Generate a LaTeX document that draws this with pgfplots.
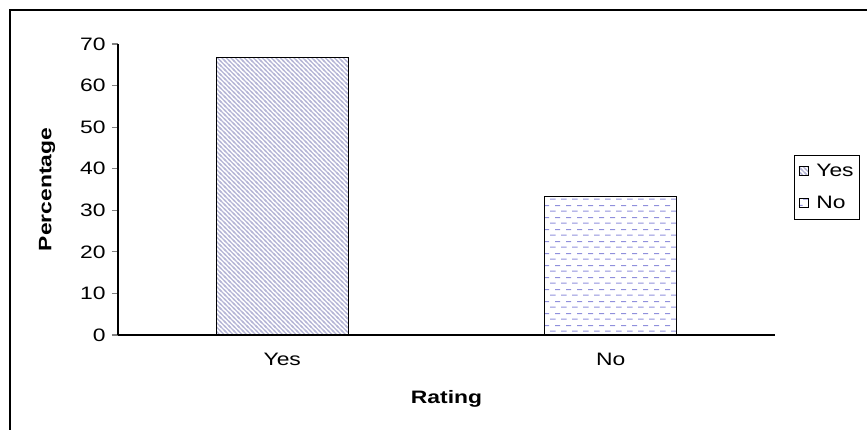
\documentclass[border=0pt]{standalone}
\usepackage{fontspec}
\setmainfont{Liberation Sans}[FakeStretch=1.27]
\usepackage{pgfplots}
\pgfplotsset{compat=1.18}
\usetikzlibrary{patterns}
\pgfdeclarepatternformonly{hdashes}{\pgfpointorigin}{\pgfqpoint{11bp}{12bp}}{\pgfqpoint{11bp}{12bp}}{%
  \pgfsetlinewidth{1bp}%
  \pgfpathmoveto{\pgfqpoint{0bp}{3bp}}\pgfpathlineto{\pgfqpoint{6bp}{3bp}}%
  \pgfpathmoveto{\pgfqpoint{5.5bp}{9bp}}\pgfpathlineto{\pgfqpoint{11bp}{9bp}}%
  \pgfusepath{stroke}}
\pgfdeclarepatternformonly{dlines}{\pgfqpoint{-1bp}{-1bp}}{\pgfqpoint{5.5bp}{5.5bp}}{\pgfqpoint{4.5bp}{4.5bp}}{%
  \pgfsetlinewidth{1.2bp}%
  \pgfpathmoveto{\pgfqpoint{0bp}{4.5bp}}\pgfpathlineto{\pgfqpoint{4.5bp}{0bp}}%
  \pgfpathmoveto{\pgfqpoint{-1bp}{1bp}}\pgfpathlineto{\pgfqpoint{1bp}{-1bp}}%
  \pgfpathmoveto{\pgfqpoint{3.5bp}{5.5bp}}\pgfpathlineto{\pgfqpoint{5.5bp}{3.5bp}}%
  \pgfusepath{stroke}}
\definecolor{yescol}{HTML}{B6B6D6}
\definecolor{nocol}{HTML}{9090DC}
\begin{document}
\begin{tikzpicture}
\useasboundingbox (-118bp,-95bp) rectangle (749bp,335bp);
\draw[line width=2bp] (-108bp,-95bp) -- (-108bp,325bp) -- (749bp,325bp);
\begin{axis}[
  at={(0,0)}, anchor=south west,
  scale only axis, width=657bp, height=291bp,
  xmin=-0.5, xmax=1.5, ymin=0, ymax=70,
  axis lines=left, axis line style={-, line width=1.2bp},
  ytick={0,10,...,70},
  xtick={0,1}, xticklabels={Yes,No},
  x tick style={draw=none},
  extra x ticks={-0.5,0.5,1.5}, extra x tick labels={},
  extra x tick style={tick style={draw=black, line width=1.2bp}, major tick length=6bp},
  y tick style={line width=1.2bp}, major tick length=6bp,
  tick align=outside,
  tick label style={font=\fontsize{18bp}{20bp}\selectfont},
  /pgf/number format/assume math mode=true,
  xticklabel style={yshift=-9bp},
  yticklabel style={xshift=-3bp},
  ylabel={\textbf{Percentage}}, xlabel={\textbf{Rating}},
  label style={font=\fontsize{18bp}{20bp}\selectfont},
  ylabel style={at={(axis description cs:-0.108,0.5)}, anchor=center, rotate=0},
  xlabel style={at={(axis description cs:0.5,-0.22)}, anchor=center},
  ybar, bar width=132bp, bar shift=0pt,
  legend style={at={(rel axis cs:1.029,0.619)}, anchor=north west,
    draw=black, line width=1bp, font=\fontsize{18bp}{20bp}\selectfont,
    inner xsep=4bp, inner ysep=7bp, row sep=14bp, column sep=6bp, cells={anchor=west}},
  legend image code/.code={\draw[#1, line width=0.8bp] (0bp,-4.5bp) rectangle (9bp,4.5bp);},
]
\addplot[draw=black, line width=1.3bp, pattern=dlines, pattern color=yescol] coordinates {(0,66.7)};
\addplot[draw=black, line width=1.3bp, pattern=hdashes, pattern color=nocol] coordinates {(1,33.3)};
\legend{Yes,No}
\end{axis}
\end{tikzpicture}
\end{document}
